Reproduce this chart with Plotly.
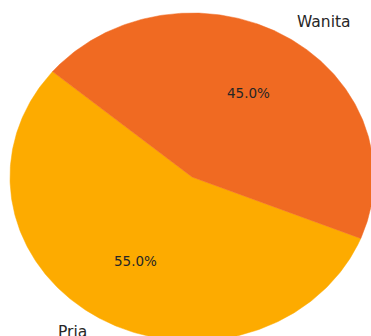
import numpy as np
import plotly.graph_objects as go

labels = ["Pria", "Wanita"]
values = [55, 45]
colors = ["#FDAB00", "#F06A22"]
start_angle = 140

fig = go.Figure()
total = sum(values)
theta0 = start_angle
for lab, v, c in zip(labels, values, colors):
    span = 360.0 * v / total
    th = np.radians(np.linspace(theta0, theta0 + span, 240))
    x = np.concatenate([[0], np.cos(th), [0]])
    y = np.concatenate([[0], np.sin(th), [0]])
    fig.add_trace(go.Scatter(x=x, y=y, fill="toself", fillcolor=c,
                             line=dict(width=0.5, color=c), mode="lines",
                             hoverinfo="skip", showlegend=False))
    mid = np.radians(theta0 + span / 2)
    cx, cy = np.cos(mid), np.sin(mid)
    fig.add_annotation(x=0.6 * cx, y=0.6 * cy, text=f"{100 * v / total:.1f}%",
                       showarrow=False,
                       font=dict(family="DejaVu Sans", size=13.5, color="#262626"))
    fig.add_annotation(x=1.1 * cx, y=1.1 * cy, text=lab, showarrow=False,
                       xanchor="right" if cx < 0 else "left", yanchor="middle",
                       font=dict(family="DejaVu Sans", size=15.5, color="#262626"))
    theta0 += span

fig.update_layout(
    width=371, height=336,
    margin=dict(l=0, r=0, t=0, b=0),
    paper_bgcolor="white", plot_bgcolor="white",
    xaxis=dict(range=[-192 / 182, (371 - 192) / 182], visible=False, fixedrange=True),
    yaxis=dict(range=[-(336 - 177) / 164, 177 / 164], visible=False, fixedrange=True),
)
fig.write_html("out.html")
